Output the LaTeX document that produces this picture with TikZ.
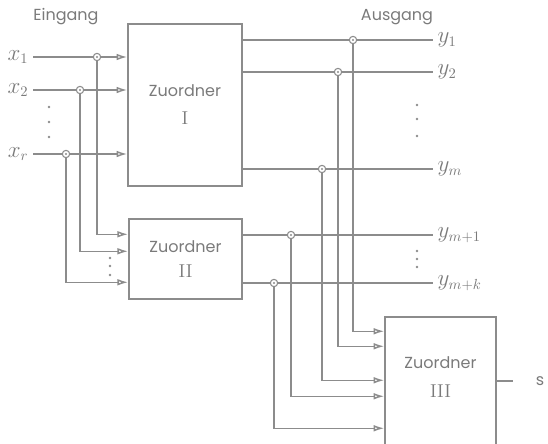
\documentclass[tikz,border=0pt]{standalone}
\usepackage{fontspec}
\newfontfamily\labelfont{Poppins}
\usetikzlibrary{arrows.meta,positioning,calc}
\definecolor{wire}{HTML}{8C8C8C}
\definecolor{ink}{HTML}{7A7A7A}
\newcommand{\romnum}[1]{{\rmfamily\fontsize{14}{14}\selectfont #1}}
\begin{document}
\begin{tikzpicture}[x=0.75pt,y=-0.75pt,
  box/.style={draw=wire,line width=1.1pt,inner sep=0pt,align=center,text=ink,
              font=\labelfont\fontsize{12}{21}\selectfont},
  arr/.style={-{Latex[open,length=8pt,width=5pt]},wire,line width=1.1pt},
  wl/.style={wire,line width=1.1pt},
  jn/.style={circle,draw=wire,fill=white,line width=0.8pt,inner sep=0pt,minimum size=5.5pt,
             path picture={\fill[wire] (path picture bounding box.center) circle (0.8pt);}},
  dot/.style={circle,fill=wire,inner sep=0pt,minimum size=2pt},
  lbl/.style={text=ink,font=\labelfont\fontsize{12}{14}\selectfont},
  sym/.style={text=ink,font=\fontsize{16}{18}\selectfont}]
\useasboundingbox (0,0) rectangle (548,443);
\clip (0,0) rectangle (548,443);
% the three Zuordner
\node[box,minimum width=85.5pt,minimum height=121.5pt] (z1) at (185,105) {Zuordner\\\romnum{I}};
\node[box,minimum width=85pt,minimum height=60pt,font=\labelfont\fontsize{12}{19}\selectfont]
  (z2) at (185.5,259) {Zuordner\\\romnum{II}};
\node[box,minimum width=83.25pt,minimum height=135pt] (z3) at (440.5,407) {};
\node[box,draw=none,font=\labelfont\fontsize{12}{22}\selectfont] (z3t) at (440.5,377) {Zuordner\\\romnum{III}};
\node[lbl] (ein) at (66,17) {Eingang};
\node[lbl] (aus) at (397,17) {Ausgang};
% inputs
\foreach \n/\t/\y in {x1/x_1/57,x2/x_2/90,xr/x_r/154}{
  \node[sym,anchor=east] (\n) at (33,\y) {$\t$};
  \draw[arr] (\n.east) -- (\n.east -| z1.west);}
\foreach \y in {107,122,137}{\node[dot] at (49,\y) {};}
% outputs
\foreach \n/\t/\y in {y1/y_1/40,y2/y_2/72,ym/y_m/169}{
  \node[sym,anchor=west] (\n) at (433,\y) {$\t$};
  \draw[wl] (z1.east |- \n) -- (\n.west);}
\foreach \n/\t/\y in {yp/y_{m+1}/235,yk/y_{m+k}/283}{
  \node[sym,anchor=west] (\n) at (433,\y) {$\t$};
  \draw[wl] (z2.east |- \n) -- (\n.west);}
\foreach \y in {105,119,136,251,259,267}{\node[dot] at (417,\y) {};}
\foreach \y in {258,266,275}{\node[dot] at (110,\y) {};}
% junctions feeding Zuordner II
\foreach \n/\x/\y/\d in {j1/97/57/16,j2/80/90/33,jr/66/154/64}{
  \node[jn] (\n) at (\x,\y) {};
  \draw[arr] (\n) |- ($(z2.north west)+(0,\d)$);}
% junctions feeding Zuordner III
\foreach \n/\x/\y/\d in {k1/353/40/15,k2/338/72/30,km/322/169/64,kp/291/235/80,kk/274/283/112}{
  \node[jn] (\n) at (\x,\y) {};
  \draw[arr] (\n) |- ($(z3.north west)+(0,\d)$);}
% result
\coordinate (send) at (513,381);
\node[lbl] (s) at (540,381) {s};
\draw[wl] (z3.east |- send) -- (send);
\end{tikzpicture}
\end{document}
